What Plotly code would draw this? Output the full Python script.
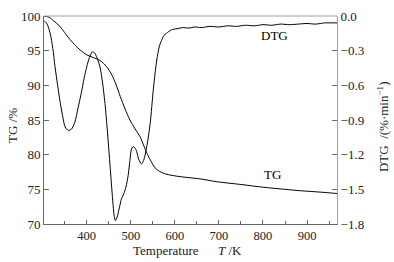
import plotly.graph_objects as go

# TG curve (left axis, %)
T_tg = [303, 315, 325, 339, 350, 362, 375, 385, 400, 415, 430, 445, 457, 466, 476, 487,
        498, 510, 521, 530, 538, 544, 555, 565, 580, 604, 630, 658, 695, 750, 801, 850,
        885, 930, 968]
TG = [100, 99.8, 99.3, 98.5, 97.6, 96.6, 95.7, 95.1, 94.4, 94.0, 93.6, 92.7, 91.5, 90.2,
      88.4, 86.6, 85.0, 83.7, 82.6, 81.2, 80.0, 79.3, 78.1, 77.6, 77.2, 76.9, 76.7, 76.5,
      76.1, 75.7, 75.3, 75.0, 74.8, 74.6, 74.4]

# DTG curve (right axis, %/min)
T_dtg = [303, 310, 317, 323, 328, 334, 339, 345, 351, 358, 365, 373, 380, 388, 394, 400,
         406, 413, 418, 422, 426, 430, 436, 442, 448, 453, 458, 462, 465, 469, 474, 479,
         484, 489, 494, 498, 501, 505, 509, 513, 518, 524, 528, 532, 538, 544, 551, 555,
         559, 565, 570, 575, 581, 592, 605, 619, 632, 645, 660, 680, 700, 720, 740, 760,
         780, 800, 820, 840, 860, 880, 900, 920, 940, 968]
DTG = [-0.04, -0.07, -0.15, -0.28, -0.44, -0.60, -0.73, -0.86, -0.96, -0.99, -0.98, -0.92,
       -0.80, -0.66, -0.54, -0.44, -0.36, -0.31, -0.32, -0.35, -0.39, -0.44, -0.58, -0.78,
       -1.05, -1.30, -1.55, -1.72, -1.77, -1.74, -1.66, -1.58, -1.54, -1.48, -1.38, -1.25,
       -1.16, -1.13, -1.14, -1.17, -1.24, -1.28, -1.26, -1.21, -1.09, -0.93, -0.64, -0.50,
       -0.38, -0.26, -0.21, -0.17, -0.15, -0.12, -0.11, -0.10, -0.105, -0.095, -0.10,
       -0.09, -0.095, -0.085, -0.09, -0.08, -0.085, -0.075, -0.08, -0.07, -0.075, -0.07,
       -0.065, -0.07, -0.06, -0.06]

FONT = "Liberation Serif"
AXD = "#666666"
AXL = "#a0a0a0"
FS = 13
TXT = "#222222"

fig = go.Figure()
fig.add_trace(go.Scatter(x=T_tg, y=TG, mode="lines", line=dict(color="black", width=1, shape="spline", smoothing=0.8), yaxis="y"))
fig.add_trace(go.Scatter(x=T_dtg, y=DTG, mode="lines", line=dict(color="black", width=1, shape="spline", smoothing=0.8), yaxis="y2"))

fig.add_annotation(x=826, y=-0.17, xref="x", yref="y2", text="DTG", showarrow=False, font=dict(family=FONT, size=FS, color="black"))
fig.add_annotation(x=822, y=-1.37, xref="x", yref="y2", text="TG", showarrow=False, font=dict(family=FONT, size=FS, color="black"))

# axis titles as annotations (paper coords)
fig.add_annotation(x=0.491, y=-0.127, xref="paper", yref="paper", xanchor="center", yanchor="middle",
                   text="Temperature      <i>T</i> /K",
                   showarrow=False, font=dict(family=FONT, size=FS, color=TXT))
fig.add_annotation(x=-0.106, y=0.476, xref="paper", yref="paper", xanchor="center", yanchor="middle",
                   text="TG /%", textangle=-90,
                   showarrow=False, font=dict(family=FONT, size=FS, color=TXT))
fig.add_annotation(x=1.157, y=0.466, xref="paper", yref="paper", xanchor="center", yanchor="middle",
                   text="DTG  /(%·min<sup>−1</sup>)", textangle=-90,
                   showarrow=False, font=dict(family=FONT, size=FS, color=TXT))

# light top frame line
fig.add_shape(type="line", xref="paper", yref="paper", x0=0, x1=1, y0=1, y1=1, line=dict(color=AXL, width=1))

fig.update_layout(
    width=394, height=262,
    margin=dict(l=44, r=57, t=16, b=38),
    paper_bgcolor="white", plot_bgcolor="white",
    showlegend=False,
    font=dict(family=FONT, size=FS, color=TXT),
    xaxis=dict(range=[303, 968], tickvals=[400, 500, 600, 700, 800, 900], ticks="inside", ticklen=4,
               tickcolor=AXD, showline=True, linecolor=AXD, linewidth=1, showgrid=False, zeroline=False,
               automargin=False, tickfont=dict(size=12.5),
               minor=dict(tickvals=[350, 450, 550, 650, 750, 850, 950], ticks="inside", ticklen=3, tickcolor=AXD)),
    yaxis=dict(range=[70, 100], dtick=5, ticks="inside", ticklen=5, tickcolor=AXD, showline=True, linecolor=AXD,
               linewidth=1, showgrid=False, zeroline=False, automargin=False, tickfont=dict(size=FS)),
    yaxis2=dict(range=[-1.8, 0], tickvals=[0, -0.3, -0.6, -0.9, -1.2, -1.5, -1.8], tickformat=".1f",
                overlaying="y", side="right", ticks="inside", ticklen=5, tickcolor=AXD, showline=True,
                linecolor=AXL, linewidth=1, showgrid=False, zeroline=False, automargin=False, tickfont=dict(size=FS)),
)

fig.write_html("out.html", config={"displayModeBar": False},
               post_script="document.body.style.margin='0';")
